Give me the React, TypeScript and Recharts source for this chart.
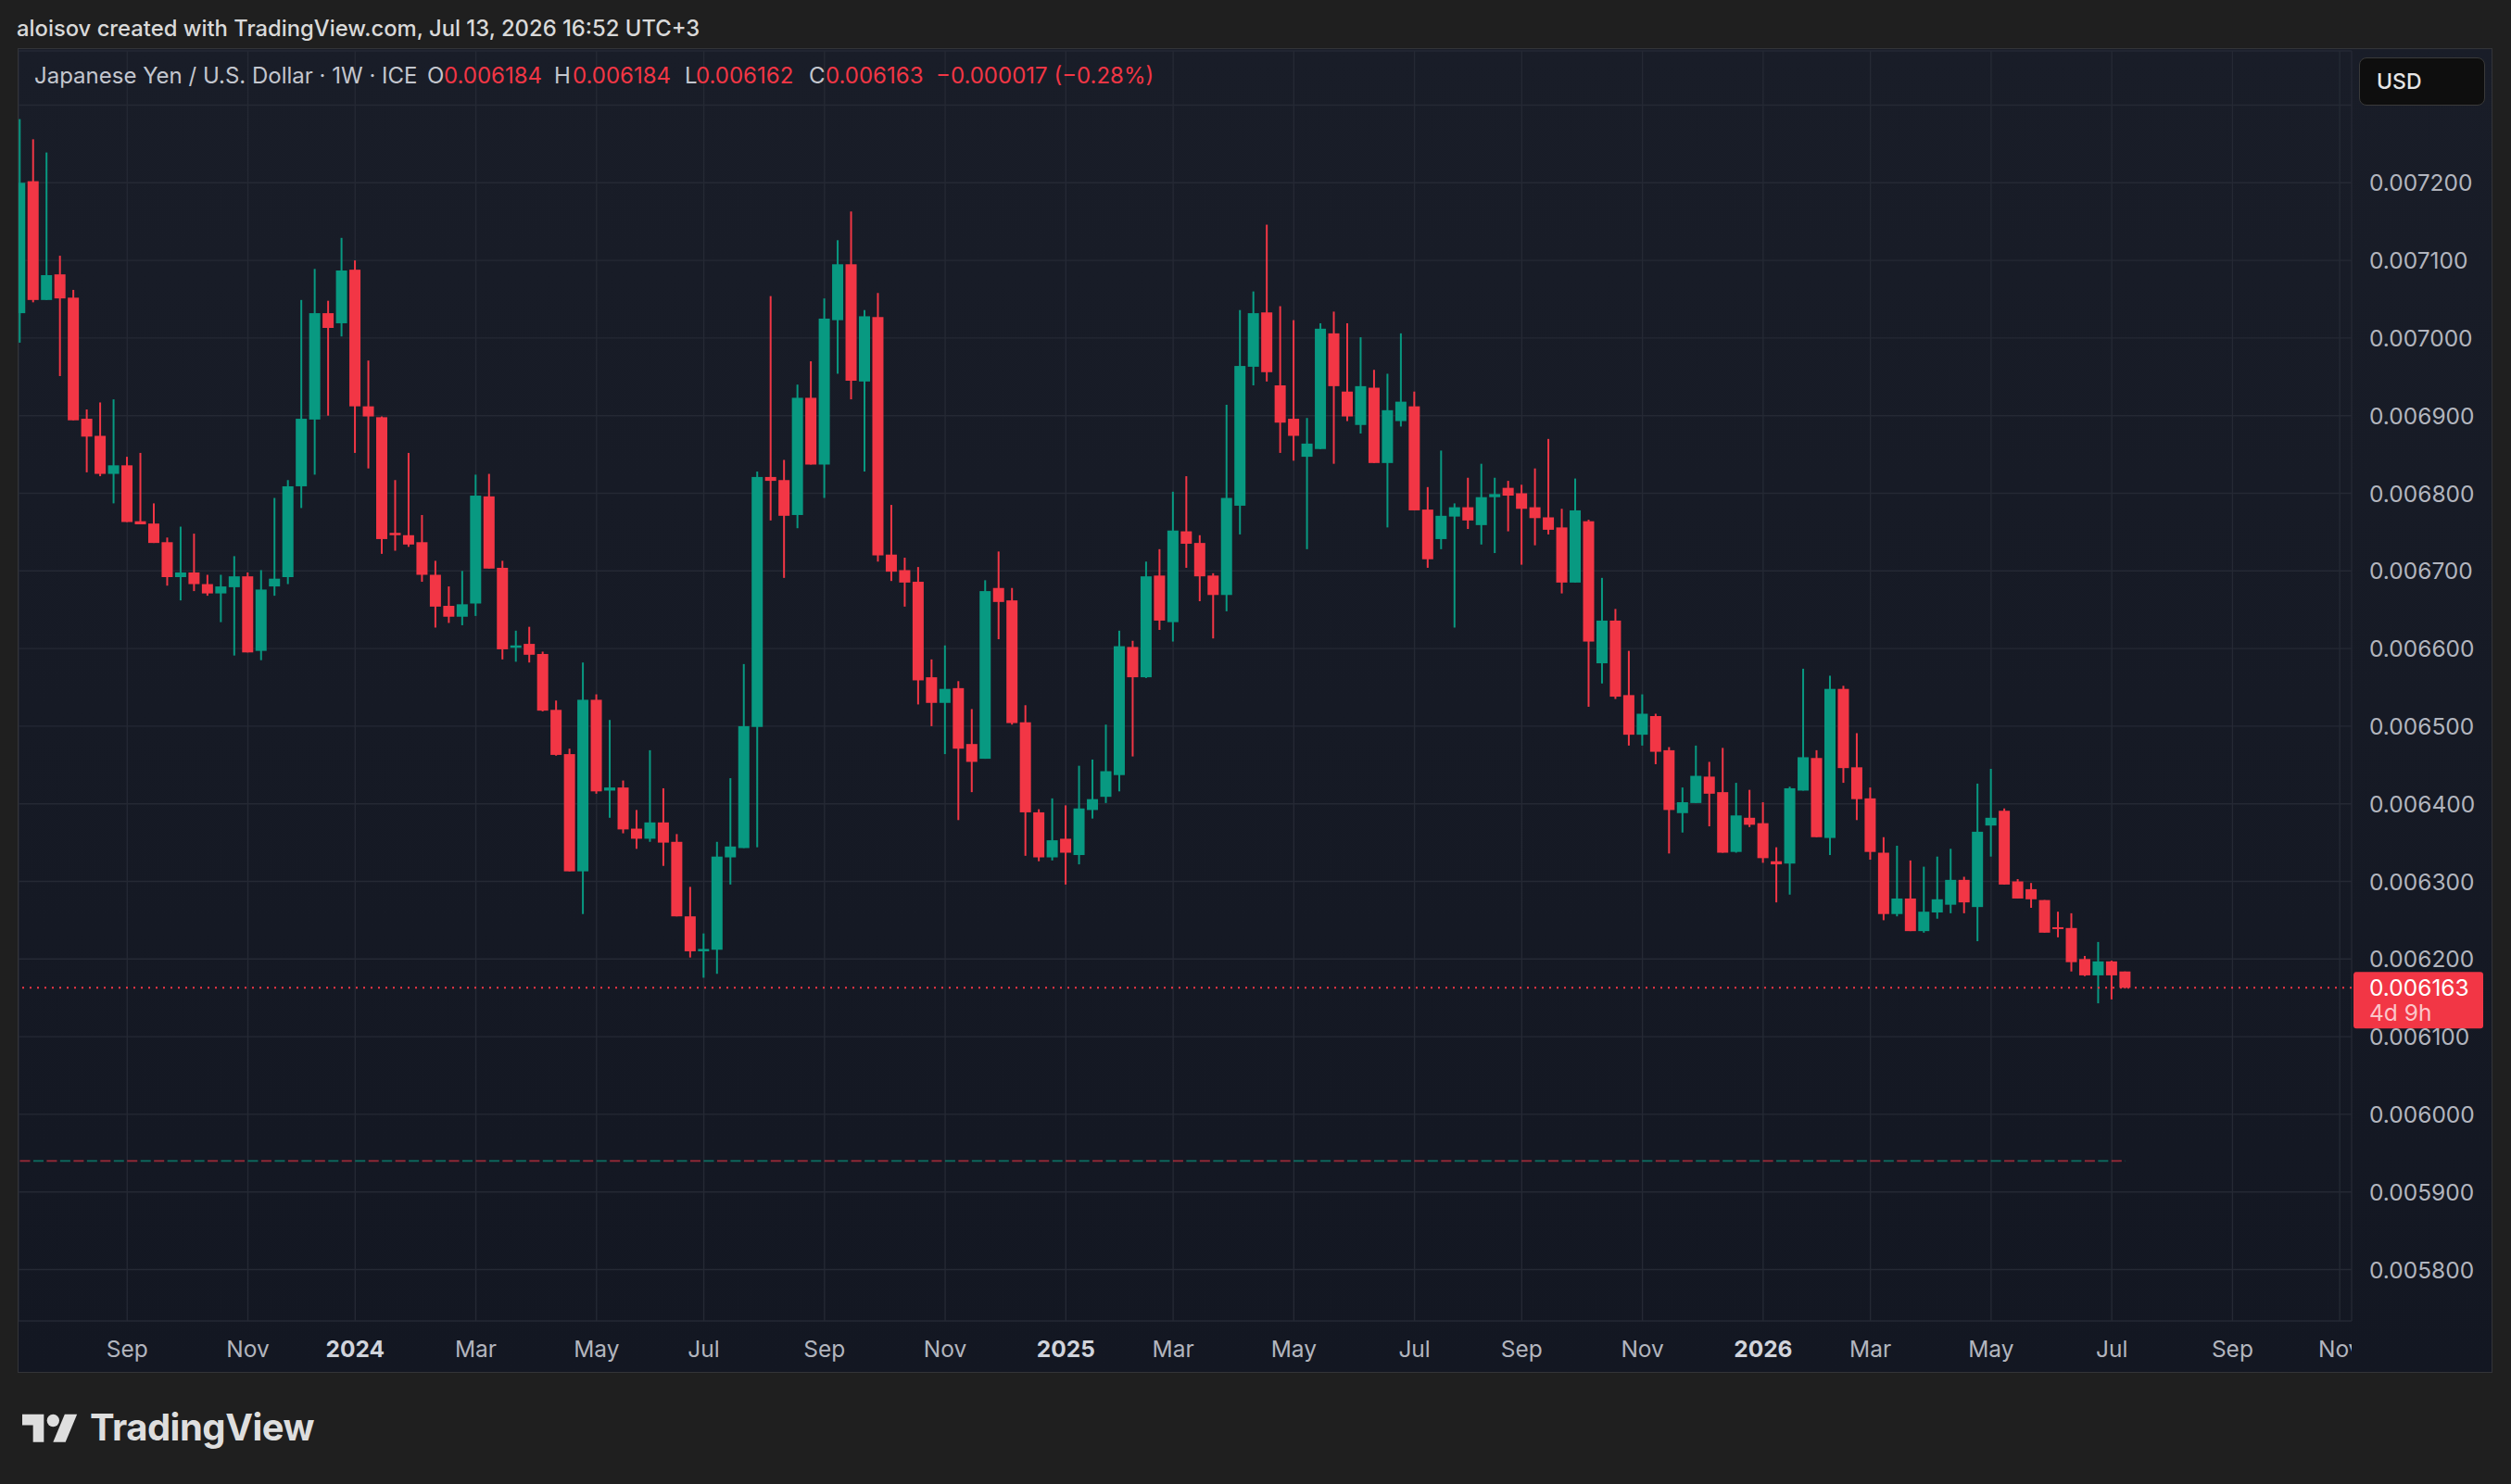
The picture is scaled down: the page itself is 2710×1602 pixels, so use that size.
import React from 'react';
import { ComposedChart, Bar, XAxis, YAxis, CartesianGrid, ReferenceLine } from 'recharts';

// weekly bars, Mon 10 Jul 2023 .. Mon 13 Jul 2026, then empty future weeks up to Nov 2026
const FIRST_WEEK = Date.UTC(2023, 6, 10);
const SLOTS = 174;
const weeks = Array.from({ length: SLOTS }, (_, i) =>
  new Date(FIRST_WEEK + i * 7 * 86400000).toISOString().slice(0, 10)
);

// JPY/USD weekly OHLC, in millionths of a dollar
const opens = [
  7032, 7202, 7049, 7082, 7052, 6896, 6874, 6825, 6836, 6764,
  6761, 6737, 6692, 6698, 6683, 6671, 6679, 6693, 6597, 6680,
  6692, 6809, 6895, 7032, 7019, 7088, 6912, 6898, 6749, 6746,
  6737, 6695, 6655, 6641, 6658, 6796, 6704, 6601, 6606, 6593,
  6521, 6464, 6313, 6534, 6417, 6421, 6368, 6355, 6376, 6351,
  6255, 6210, 6212, 6331, 6343, 6499, 6821, 6817, 6772, 6923,
  6837, 7023, 7095, 6944, 7027, 6721, 6701, 6686, 6563, 6530,
  6549, 6477, 6458, 6678, 6662, 6505, 6389, 6331, 6355, 6334,
  6392, 6409, 6437, 6602, 6563, 6694, 6634, 6751, 6736, 6694,
  6669, 6784, 6963, 7033, 6939, 6896, 6847, 6857, 7006, 6931,
  6888, 6936, 6839, 6893, 6912, 6779, 6741, 6770, 6782, 6759,
  6795, 6807, 6800, 6782, 6769, 6756, 6685, 6764, 6581, 6636,
  6540, 6489, 6513, 6469, 6388, 6401, 6435, 6415, 6338, 6382,
  6375, 6326, 6323, 6417, 6459, 6356, 6548, 6447, 6407, 6337,
  6258, 6278, 6236, 6260, 6270, 6302, 6267, 6372, 6391, 6300,
  6290, 6276, 6241, 6240, 6200, 6179, 6197, 6184,
];
const highs = [
  7282, 7256, 7239, 7106, 7062, 6908, 6917, 6921, 6847, 6852,
  6787, 6743, 6757, 6748, 6695, 6695, 6719, 6698, 6701, 6794,
  6817, 7049, 7089, 7048, 7129, 7100, 6971, 6899, 6817, 6852,
  6772, 6713, 6680, 6700, 6824, 6825, 6713, 6623, 6628, 6596,
  6533, 6471, 6582, 6541, 6508, 6430, 6392, 6469, 6420, 6361,
  6293, 6233, 6351, 6433, 6580, 6828, 7054, 6843, 6940, 6970,
  7051, 7126, 7163, 7036, 7058, 6785, 6717, 6705, 6586, 6604,
  6558, 6522, 6688, 6725, 6678, 6527, 6393, 6407, 6398, 6449,
  6457, 6502, 6623, 6610, 6712, 6728, 6802, 6822, 6746, 6697,
  6914, 7036, 7060, 7146, 7041, 7023, 6897, 7019, 7034, 7019,
  7001, 6959, 6954, 7006, 6931, 6808, 6855, 6787, 6820, 6838,
  6820, 6816, 6811, 6832, 6870, 6780, 6819, 6766, 6691, 6651,
  6597, 6541, 6516, 6473, 6421, 6475, 6454, 6472, 6427, 6418,
  6402, 6344, 6422, 6574, 6469, 6565, 6552, 6491, 6421, 6357,
  6346, 6327, 6319, 6332, 6342, 6306, 6426, 6445, 6394, 6303,
  6298, 6276, 6261, 6259, 6204, 6222, 6198, 6184,
];
const lows = [
  6994, 7046, 7049, 6951, 6894, 6827, 6822, 6787, 6763, 6760,
  6736, 6681, 6662, 6674, 6668, 6634, 6591, 6595, 6585, 6668,
  6683, 6781, 6824, 6900, 7002, 6852, 6832, 6722, 6726, 6731,
  6686, 6627, 6633, 6630, 6642, 6703, 6586, 6583, 6582, 6519,
  6462, 6313, 6258, 6413, 6382, 6362, 6342, 6351, 6320, 6255,
  6202, 6176, 6181, 6296, 6343, 6344, 6765, 6691, 6755, 6837,
  6794, 6954, 6921, 6828, 6712, 6687, 6654, 6528, 6500, 6464,
  6379, 6415, 6458, 6612, 6502, 6333, 6326, 6327, 6296, 6322,
  6381, 6401, 6416, 6461, 6562, 6624, 6609, 6704, 6661, 6613,
  6648, 6747, 6939, 6944, 6852, 6842, 6728, 6857, 6838, 6893,
  6877, 6839, 6756, 6886, 6778, 6704, 6728, 6627, 6754, 6734,
  6723, 6751, 6708, 6733, 6747, 6671, 6685, 6525, 6555, 6535,
  6475, 6475, 6451, 6336, 6363, 6401, 6371, 6337, 6337, 6370,
  6324, 6273, 6283, 6417, 6357, 6334, 6427, 6379, 6328, 6250,
  6255, 6236, 6234, 6252, 6259, 6259, 6223, 6332, 6296, 6278,
  6266, 6234, 6228, 6184, 6178, 6143, 6148, 6162,
];
const closes = [
  7200, 7049, 7081, 7051, 6894, 6873, 6825, 6836, 6763, 6760,
  6736, 6692, 6698, 6683, 6671, 6680, 6693, 6595, 6676, 6690,
  6809, 6896, 7032, 7013, 7087, 6912, 6899, 6741, 6746, 6734,
  6695, 6654, 6641, 6657, 6797, 6703, 6599, 6604, 6592, 6520,
  6463, 6313, 6534, 6416, 6421, 6367, 6355, 6376, 6350, 6255,
  6210, 6213, 6332, 6345, 6500, 6821, 6816, 6771, 6923, 6837,
  7025, 7095, 6945, 7028, 6720, 6699, 6685, 6559, 6530, 6548,
  6471, 6454, 6674, 6660, 6504, 6389, 6331, 6353, 6337, 6394,
  6406, 6442, 6603, 6563, 6693, 6636, 6752, 6735, 6693, 6669,
  6794, 6964, 7032, 6956, 6891, 6874, 6864, 7012, 6938, 6899,
  6938, 6839, 6907, 6918, 6778, 6715, 6771, 6782, 6765, 6795,
  6799, 6797, 6780, 6768, 6753, 6685, 6778, 6609, 6636, 6538,
  6489, 6516, 6467, 6392, 6402, 6436, 6413, 6337, 6385, 6373,
  6330, 6322, 6420, 6460, 6357, 6548, 6446, 6406, 6338, 6258,
  6278, 6236, 6261, 6277, 6302, 6273, 6364, 6382, 6296, 6278,
  6277, 6234, 6239, 6196, 6179, 6197, 6179, 6163,
];

const monthTicks = [
  '2023-09-04', '2023-11-06', '2024-01-01', '2024-03-04', '2024-05-06', '2024-07-01',
  '2024-09-02', '2024-11-04', '2025-01-06', '2025-03-03', '2025-05-05', '2025-07-07',
  '2025-09-01', '2025-11-03', '2026-01-05', '2026-03-02', '2026-05-04', '2026-07-06',
  '2026-09-07', '2026-11-02',
];
const monthLabels = [
  'Sep', 'Nov', '2024', 'Mar', 'May', 'Jul',
  'Sep', 'Nov', '2025', 'Mar', 'May', 'Jul',
  'Sep', 'Nov', '2026', 'Mar', 'May', 'Jul',
  'Sep', 'Nov',
];
const priceTicks = [5800, 5900, 6000, 6100, 6200, 6300, 6400, 6500, 6600, 6700, 6800, 6900, 7000, 7100, 7200, 7300];
// the top tick sits under the currency button, only its grid line shows
const hiddenTick = 7300;

const lastPrice = 6163;
const lowLine = 5940;

const GREEN = '#089981';
const RED = '#f23645';
const AXIS_TEXT = '#b2b5be';
const GRID = '#252934';
const FONT = 'Inter, "Noto Sans", sans-serif';

const CHART_W = 2669;
const CHART_H = 1428;
const Y_AXIS_W = 151;
const X_AXIS_H = 55;
const PLOT_W = CHART_W - Y_AXIS_W;

const data = weeks.map((date, i) =>
  i < opens.length
    ? { date, range: [lows[i], highs[i]], open: opens[i], high: highs[i], low: lows[i], close: closes[i] }
    : { date, range: null }
);

const fmt = (v: number) => (v / 1e6).toFixed(6);

function Candle(props: any) {
  const { x, y, width, height, payload } = props;
  if (!payload || payload.open == null || y == null) return null;
  const { open, close, high, low } = payload;
  const span = high - low || 1;
  const toY = (v: number) => y + ((high - v) / span) * height;
  const color = close >= open ? GREEN : RED;
  const cx = x + width / 2;
  const top = toY(Math.max(open, close));
  const bottom = toY(Math.min(open, close));
  return (
    <g>
      <rect x={cx - 1} y={y} width={2} height={Math.max(height, 1)} fill={color} />
      <rect x={x} y={top} width={width} height={Math.max(bottom - top, 2)} fill={color} />
    </g>
  );
}

function XTick(props: any) {
  const { x, y, payload } = props;
  const label = monthLabels[monthTicks.indexOf(payload.value)] ?? '';
  const isYear = /^\d{4}$/.test(label);
  return (
    <svg x={0} y={y} width={PLOT_W} height={X_AXIS_H} overflow="hidden">
      <text
        x={x}
        y={30}
        textAnchor="middle"
        dominantBaseline="central"
        fontFamily={FONT}
        fontSize={24.5}
        fontWeight={isYear ? 700 : 400}
        fill={isYear ? '#d1d4dc' : AXIS_TEXT}
      >
        {label}
      </text>
    </svg>
  );
}

function YTick(props: any) {
  const { x, y, payload } = props;
  if (payload.value === hiddenTick) return null;
  return (
    <text x={x + 19} y={y} dominantBaseline="central" fontFamily={FONT} fontSize={24.5} fill={AXIS_TEXT}>
      {fmt(payload.value)}
    </text>
  );
}

function PriceLabel(props: any) {
  const vb = props.viewBox || {};
  const left = (vb.x ?? 0) + (vb.width ?? 0) + 2;
  const y = vb.y ?? 0;
  return (
    <g>
      <rect x={left} y={y - 17} width={140} height={61} rx={3} fill={RED} />
      <text x={left + 17} y={y} dominantBaseline="central" fontFamily={FONT} fontSize={24.5} fill="#ffffff">
        {fmt(lastPrice)}
      </text>
      <text x={left + 17} y={y + 27} dominantBaseline="central" fontFamily={FONT} fontSize={24.5} fill="rgba(255,255,255,0.72)">
        4d 9h
      </text>
    </g>
  );
}

function Logo() {
  return (
    <svg style={{ position: 'absolute', left: 24, top: 1520 }} width={60} height={47} viewBox="0 0 36 28">
      <path d="M14 22H7V11H0V4h14v18z" fill="#dedede" />
      <path d="M28 22h-8l7.5-18h8L28 22z" fill="#dedede" />
      <circle cx="20" cy="8" r="4" fill="#dedede" />
    </svg>
  );
}

export default function App() {
  const legendText: React.CSSProperties = {
    position: 'absolute',
    top: 67,
    lineHeight: '30px',
    fontSize: 24,
    fontFamily: FONT,
    whiteSpace: 'nowrap',
  };
  const lastIdx = opens.length - 1;

  return (
    <div style={{ position: 'absolute', left: 0, top: 0, width: 2710, height: 1602, background: '#1f1f1f', overflow: 'hidden', fontFamily: FONT }}>
      <div style={{ position: 'absolute', left: 18, top: 16, lineHeight: '30px', fontSize: 23.8, color: '#d9d9d9', fontWeight: 500, whiteSpace: 'nowrap' }}>
        aloisov created with TradingView.com, Jul 13, 2026 16:52 UTC+3
      </div>

      <div
        style={{
          position: 'absolute',
          left: 19,
          top: 52,
          width: 2671,
          height: 1430,
          boxSizing: 'border-box',
          border: '1px solid #333438',
          background: 'linear-gradient(#191d28, #131722)',
        }}
      />

      <div style={{ position: 'absolute', left: 20, top: 53, width: CHART_W, height: CHART_H }}>
        <ComposedChart width={CHART_W} height={CHART_H} data={data} margin={{ top: 2, right: 0, bottom: 0, left: 0 }}>
          <CartesianGrid stroke={GRID} strokeWidth={1.4} />
          <XAxis
            dataKey="date"
            ticks={monthTicks}
            interval={0}
            tick={<XTick />}
            tickLine={false}
            axisLine={false}
            tickSize={0}
            tickMargin={0}
            height={X_AXIS_H}
            padding={{ left: -5.74, right: 5.6 }}
          />
          <YAxis
            orientation="right"
            type="number"
            domain={[5733.8, 7369.8]}
            ticks={priceTicks}
            interval={0}
            width={Y_AXIS_W}
            tick={<YTick />}
            tickLine={false}
            axisLine={false}
            tickSize={0}
            tickMargin={0}
          />
          <ReferenceLine
            segment={[{ x: weeks[0], y: lowLine }, { x: weeks[lastIdx], y: lowLine }]}
            stroke="rgba(242,54,69,0.55)"
            strokeWidth={2}
            strokeDasharray="11 17.94"
          />
          <ReferenceLine
            segment={[{ x: weeks[0], y: lowLine }, { x: weeks[lastIdx], y: lowLine }]}
            stroke="rgba(8,153,129,0.6)"
            strokeWidth={2}
            strokeDasharray="0 14.47 11 3.47"
          />
          <Bar dataKey="range" barSize={12} shape={<Candle />} isAnimationActive={false} />
          <ReferenceLine
            y={lastPrice}
            stroke={RED}
            strokeWidth={2}
            strokeDasharray="2 6"
            label={<PriceLabel />}
          />
        </ComposedChart>
      </div>

      <span style={{ ...legendText, left: 37, color: '#c3c6ce' }}>Japanese Yen / U.S. Dollar · 1W · ICE</span>
      <span style={{ ...legendText, left: 461, color: '#c3c6ce' }}>O</span>
      <span style={{ ...legendText, left: 479, color: RED }}>{fmt(opens[lastIdx])}</span>
      <span style={{ ...legendText, left: 598, color: '#c3c6ce' }}>H</span>
      <span style={{ ...legendText, left: 618, color: RED }}>{fmt(highs[lastIdx])}</span>
      <span style={{ ...legendText, left: 739, color: '#c3c6ce' }}>L</span>
      <span style={{ ...legendText, left: 751, color: RED }}>{fmt(lows[lastIdx])}</span>
      <span style={{ ...legendText, left: 873, color: '#c3c6ce' }}>C</span>
      <span style={{ ...legendText, left: 891, color: RED }}>{fmt(closes[lastIdx])}</span>
      <span style={{ ...legendText, left: 1010, color: RED }}>
        {'\u2212' + fmt(closes[lastIdx - 1] - closes[lastIdx] + 1)} (−0.28%)
      </span>

      <div
        style={{
          position: 'absolute',
          left: 2546,
          top: 62,
          width: 136,
          height: 52,
          boxSizing: 'border-box',
          background: '#0e0e0e',
          border: '1px solid #3a3a3a',
          borderRadius: 8,
          color: '#e6e6e6',
          fontSize: 23,
          fontWeight: 500,
          lineHeight: '50px',
          paddingLeft: 18,
        }}
      >
        USD
      </div>

      <Logo />
      <div style={{ position: 'absolute', left: 97, top: 1516, fontSize: 40, fontWeight: 700, color: '#dedede', lineHeight: '50px', letterSpacing: -0.5, whiteSpace: 'nowrap' }}>
        TradingView
      </div>
    </div>
  );
}
